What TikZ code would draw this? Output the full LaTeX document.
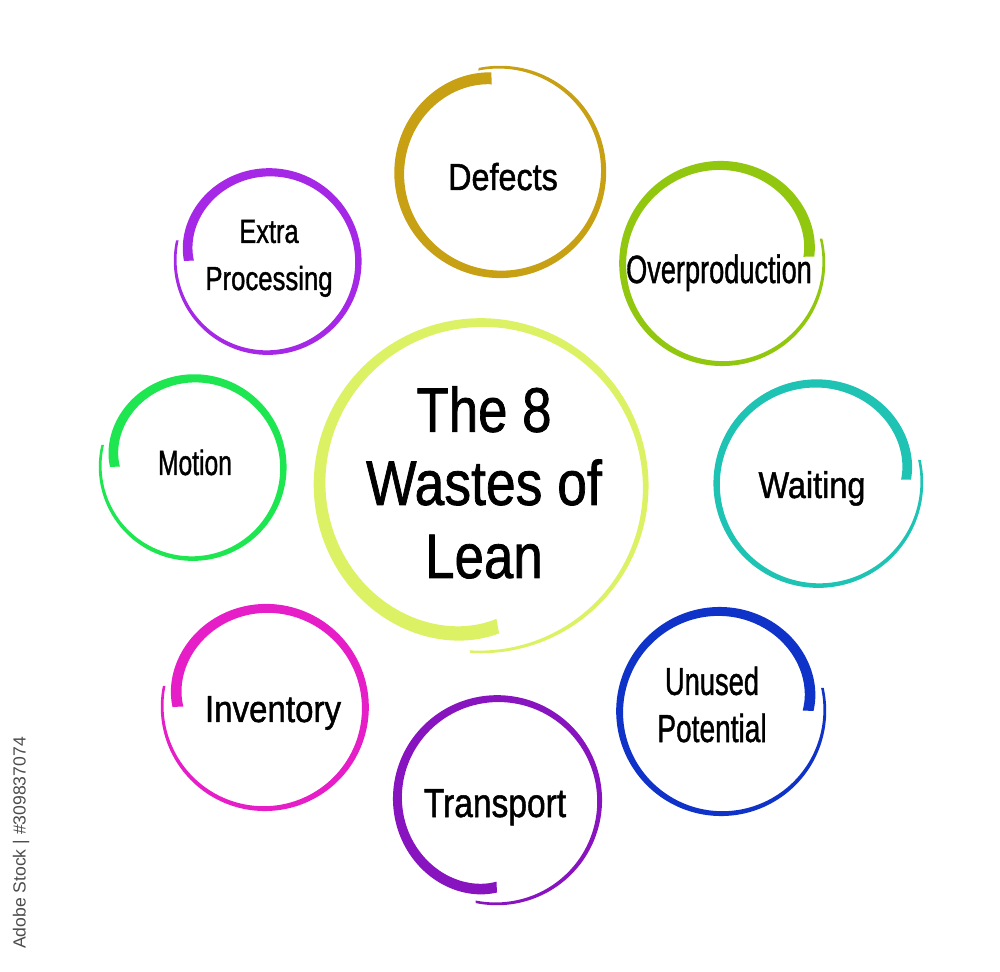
\documentclass[tikz,border=0pt]{standalone}
\usepackage{fontspec}
\setmainfont{Liberation Sans}
\newfontfamily\wastefont{Liberation Sans}[FakeBold=1.3]
\usepackage{graphicx}
\definecolor{cDefects}{RGB}{200,160,20}
\definecolor{cOver}{RGB}{145,200,15}
\definecolor{cWait}{RGB}{30,195,180}
\definecolor{cUnused}{RGB}{15,50,200}
\definecolor{cTrans}{RGB}{135,20,190}
\definecolor{cInv}{RGB}{230,30,200}
\definecolor{cMotion}{RGB}{30,230,80}
\definecolor{cExtra}{RGB}{165,40,230}
\definecolor{cCentre}{RGB}{220,242,100}
% brush ring: centre x, centre y, radius, start inset, start angle, sweep, start width, colour
\newcommand{\brushring}[8]{%
  \fill[#8] plot[domain=0:1]({#1+(#3+5*\x-#4*exp(-12*\x)+(#7*(1-\x)+2.5*\x)/2)*cos((#5)+(#6)*\x)},{#2-(#3+5*\x-#4*exp(-12*\x)+(#7*(1-\x)+2.5*\x)/2)*sin((#5)+(#6)*\x)})
    -- plot[domain=1:0]({#1+(#3+5*\x-#4*exp(-12*\x)-(#7*(1-\x)+2.5*\x)/2)*cos((#5)+(#6)*\x)},{#2-(#3+5*\x-#4*exp(-12*\x)-(#7*(1-\x)+2.5*\x)/2)*sin((#5)+(#6)*\x)}) -- cycle;}
\newcommand{\squeeze}[2]{\scalebox{#1}[1]{#2}}
\begin{document}
\begin{tikzpicture}[x=0.1mm,y=-0.1mm,samples=200,
  waste/.style={anchor=base,align=center,text=black,inner sep=0pt}]
	\useasboundingbox (0,0) rectangle (1000,972);
	% centre
	\brushring{481}{486}{161}{20}{-83}{-371}{15}{cCentre}
	\node[waste,font=\wastefont\fontsize{17.9}{20.8}\selectfont] (title) at (484,578) {\squeeze{0.84}{The 8}\\\squeeze{0.85}{Wastes of}\\\squeeze{0.84}{Lean}};
	% the eight wastes
	\brushring{500}{172}{100}{6}{95}{367}{12}{cDefects}
	\node[waste,font=\wastefont\fontsize{10.7}{13}\selectfont] (defects) at (503,190) {\squeeze{0.86}{Defects}};
	\brushring{722}{263}{97}{10}{4}{370}{11}{cOver}
	\node[waste,font=\wastefont\fontsize{11.2}{13}\selectfont] (over) at (719,283) {\squeeze{0.69}{Overproduction}};
	\brushring{818}{483}{99}{11}{2}{371}{10}{cWait}
	\node[waste,font=\wastefont\fontsize{10.6}{13}\selectfont] (waiting) at (812,498) {\squeeze{0.87}{Waiting}};
	\brushring{721}{711}{99}{12}{0}{373}{11}{cUnused}
	\node[waste,font=\wastefont\fontsize{11.1}{13.4}\selectfont] (unused) at (712,742) {\squeeze{0.70}{Unused}\\\squeeze{0.72}{Potential}};
	\brushring{497}{800}{99}{12}{-90}{-372}{11}{cTrans}
	\node[waste,font=\wastefont\fontsize{11.5}{13}\selectfont] (transport) at (495,817) {\squeeze{0.83}{Transport}};
	\brushring{265}{707}{98}{11}{180}{-372}{11}{cInv}
	\node[waste,font=\wastefont\fontsize{10.7}{13}\selectfont] (inventory) at (273,722) {\squeeze{0.88}{Inventory}};
	\brushring{193}{467}{88}{10}{180}{-374}{10}{cMotion}
	\node[waste,font=\wastefont\fontsize{10}{13}\selectfont] (motion) at (195,475) {\squeeze{0.70}{Motion}};
	\brushring{268}{261}{88}{9}{180}{-373}{10}{cExtra}
	\node[waste,font=\wastefont\fontsize{9.5}{13.4}\selectfont] (extra) at (269,290) {\squeeze{0.76}{Extra}\\\squeeze{0.77}{Processing}};
	% stock tag
	\node[rotate=90,text=black!70,font=\fontsize{5}{6}\selectfont,inner sep=0pt] (tag) at (21,843) {Adobe Stock | \#309837074};
\end{tikzpicture}
\end{document}
